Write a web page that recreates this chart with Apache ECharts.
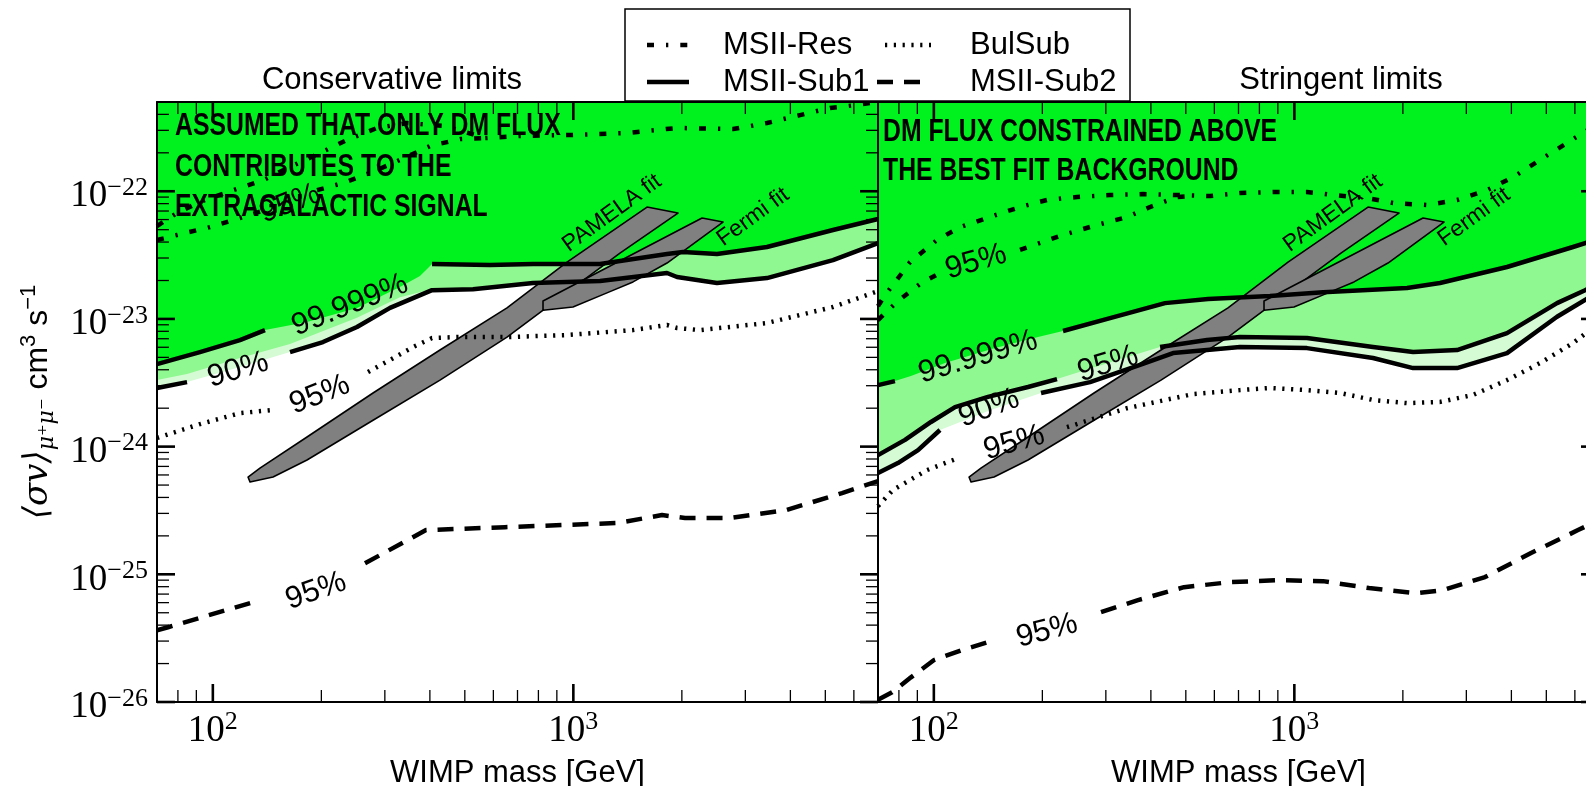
<!DOCTYPE html>
<html>
<head>
<meta charset="utf-8">
<script src="https://cdn.jsdelivr.net/npm/echarts@6/dist/echarts.min.js"></script>
<style>
  html, body { margin: 0; padding: 0; background: #fff; }
  #chart { width: 1586px; height: 786px; }
</style>
</head>
<body>
<div id="chart"></div>
<script>
// Axis ranges: WIMP mass [GeV] and <sigma v> [cm^3 s^-1]
const M_MIN = 70, M_MAX = 7000;
const Y_MIN = -26, Y_MAX = Math.log10(5e-22);

// Tick positions
const xMajorTicks = [100, 1000];
const xMinorTicks = [70, 80, 90, 200, 300, 400, 500, 600, 700, 800, 900, 2000, 3000, 4000, 5000, 6000, 7000];
const yDecades = [-26, -25, -24, -23, -22];

// ---- Conservative limits: [mass GeV, <sigma v>] ----
const consSub1Outer = [[70,4.43e-24],[92.1,5.50e-24],[118.9,6.83e-24],[139.5,8.18e-24],[182.5,9.46e-24],[251.1,1.22e-23],[330.4,1.78e-23],[375.5,2.17e-23],[405.5,2.69e-23],[587,2.64e-23],[773,2.69e-23],[1186,2.69e-23],[1819,3.22e-23],[2015,3.34e-23],[2503,3.22e-23],[3444,3.66e-23],[5251,4.97e-23],[7000,6.06e-23]];
const consSub1Mid = [[70,3.32e-24],[84.8,3.70e-24],[118.9,4.94e-24],[163.7,6.35e-24],[251.1,1.02e-23],[330.4,1.48e-23],[405.5,1.71e-23],[526.8,1.71e-23],[773,1.91e-23],[1186,1.98e-23],[1819,2.29e-23],[1939,2.13e-23],[2503,1.91e-23],[3444,2.09e-23],[5251,2.89e-23],[7000,3.93e-23]];
const consSub1Inner = [[70,2.88e-24],[84.8,3.20e-24],[118.9,4.20e-24],[163.7,5.50e-24],[202.1,6.59e-24],[251.1,8.64e-24],[310.1,1.22e-23],[405.5,1.68e-23],[526.8,1.71e-23],[773,1.91e-23],[1186,1.98e-23],[1819,2.29e-23],[1939,2.13e-23],[2503,1.91e-23],[3444,2.09e-23],[5251,2.89e-23],[7000,3.93e-23]];
const consResUpper = [[70,5.34e-23],[79.5,6.75e-23],[92.1,8.24e-23],[113.7,1.02e-22],[137.7,1.22e-22],[163.7,1.55e-22],[198.3,1.99e-22],[235.6,2.52e-22],[285.4,3.13e-22],[345.7,3.42e-22],[440.6,3.24e-22],[568.9,2.61e-22],[711,2.71e-22],[998,2.76e-22],[1408,2.86e-22],[1939,3.13e-22],[2773,3.07e-22],[3444,3.42e-22],[4254,3.95e-22],[5152,4.49e-22],[6121,4.74e-22],[7000,5.0e-22]];
const consRes95 = [[70,4.15e-23],[79.5,4.54e-23],[98.2,5.24e-23],[118.9,6.17e-23],[136.9,7.00e-23],[194.5,1.02e-22],[229.6,1.16e-22],[278.2,1.42e-22],[330.4,1.76e-22],[400.3,2.26e-22],[484.9,2.56e-22],[568.9,2.61e-22]];
const consBulSub = [[70,1.17e-24],[92.1,1.50e-24],[118.9,1.83e-24],[144.1,1.93e-24],[269.4,3.84e-24],[310.1,4.77e-24],[359.1,6.02e-24],[405.5,7.08e-24],[475.6,7.21e-24],[654.6,7.21e-24],[960.3,7.48e-24],[1464,8.18e-24],[1819,8.96e-24],[1939,8.49e-24],[2245,8.18e-24],[3444,9.29e-24],[5251,1.24e-23],[7000,1.65e-23]];
const consSub2 = [[70,3.65e-26],[75.1,3.85e-26],[129.3,6.05e-26],[264.3,1.22e-25],[390.2,2.22e-25],[646.4,2.34e-25],[1321.5,2.52e-25],[1762,2.91e-25],[2041,2.76e-25],[2720,2.76e-25],[3890,3.18e-25],[5563,4.33e-25],[7000,5.37e-25]];

// ---- Stringent limits ----
const strgSub1Outer = [[70,3.03e-24],[78.0,3.26e-24],[86.4,3.57e-24],[107.4,4.51e-24],[147.8,5.91e-24],[194.5,7.21e-24],[228.2,8.04e-24],[310,1.02e-23],[437.8,1.33e-23],[576.3,1.43e-23],[856,1.51e-23],[1201,1.62e-23],[2054,1.75e-23],[2536,1.91e-23],[3890,2.55e-23],[5929,3.66e-23],[7000,4.23e-23]];
const strgSub1Mid = [[70,8.58e-25],[83.2,1.13e-24],[98.2,1.56e-24],[114.5,2.04e-24],[141.3,2.45e-24],[182.5,2.93e-24],[219.6,3.38e-24],[304.2,4.51e-24],[424.1,6.02e-24],[572.5,6.83e-24],[707,7.21e-24],[1084,7.08e-24],[1653,6.02e-24],[2135,5.50e-24],[2827,5.71e-24],[3890,7.75e-24],[5354,1.33e-23],[6404,1.68e-23],[7000,1.91e-23]];
const strgSub1Inner = [[70,6.21e-25],[79.5,7.43e-25],[90.4,9.39e-25],[104.0,1.35e-24],[143.2,1.93e-24],[198.3,2.63e-24],[271.2,3.20e-24],[373.2,4.36e-24],[460.8,5.40e-24],[572.5,5.71e-24],[707,6.02e-24],[1084,5.91e-24],[1653,4.94e-24],[2135,4.12e-24],[2827,4.12e-24],[3890,5.40e-24],[5354,1.04e-23],[6404,1.41e-23],[7000,1.62e-23]];
const strgResUpper = [[70,1.26e-23],[73.2,1.54e-23],[77.0,1.84e-23],[85.9,2.79e-23],[102.0,4.15e-23],[118.2,5.24e-23],[145.9,6.40e-23],[173.4,7.52e-23],[206,8.54e-23],[249.5,9.01e-23],[308.1,9.34e-23],[380.4,9.51e-23],[472.6,9.34e-23],[583.4,9.18e-23],[707,9.68e-23],[872.6,9.86e-23],[1084,9.86e-23],[1280,9.34e-23],[1591,8.85e-23],[1878,8.09e-23],[2333,7.80e-23],[2827,8.54e-23],[3422,1.02e-22],[4042,1.29e-22],[4802,1.76e-22],[5706,2.39e-22],[6442,2.96e-22],[7000,3.42e-22]];
const strgRes95 = [[70,9.80e-24],[73.2,1.11e-23],[79.0,1.36e-23],[91.5,1.88e-23],[104.0,2.29e-23],[173.4,3.47e-23],[223.8,4.46e-23],[276.4,5.34e-23],[343.4,6.28e-23],[397.7,7.52e-23],[472.6,9.01e-23],[513.5,9.18e-23]];
const strgBulSub = [[70,3.42e-25],[77.0,4.57e-25],[95.7,6.55e-25],[116.7,8.12e-25],[234,1.42e-24],[343.4,2.00e-24],[523.4,2.58e-24],[707,2.77e-24],[856,2.88e-24],[1084,2.77e-24],[1339,2.63e-24],[1653,2.32e-24],[2054,2.19e-24],[2536,2.24e-24],[3131,2.54e-24],[3890,3.32e-24],[4802,4.51e-24],[5929,6.47e-24],[6442,7.75e-24],[7000,8.96e-24]];
const strgSub2 = [[70,1.04e-26],[76.6,1.19e-26],[86.4,1.56e-26],[100.1,2.13e-26],[119.7,2.55e-26],[146.9,3.05e-26],[290.9,5.05e-26],[368.4,6.28e-26],[494.2,7.93e-26],[663,8.68e-26],[895,9.00e-26],[1201,8.84e-26],[1611,7.80e-26],[2175,7.12e-26],[2585,7.52e-26],[3380,9.51e-26],[4535,1.47e-25],[6122,2.22e-25],[7000,2.66e-25]];

// ---- Best-fit regions (same in both panels) ----
const pamelaRegion = [[125.2,5.78e-25],[135.1,6.79e-25],[182.5,1.19e-24],[278.2,2.63e-24],[426.7,5.71e-24],[654.6,1.22e-23],[960.3,2.79e-23],[1601,7.52e-23],[1951,6.75e-23],[1347,3.28e-23],[978.8,1.68e-23],[654.6,7.21e-24],[426.7,3.32e-24],[278.2,1.61e-24],[182.5,7.85e-25],[146.9,5.78e-25],[126.8,5.28e-25]];
const fermiRegion = [[823.9,1.38e-23],[2275,6.17e-23],[2601,5.74e-23],[1819,2.74e-23],[1464,1.95e-23],[1239.7,1.60e-23],[997.7,1.24e-23],[823.9,1.17e-23]];
const regionLabels = [{ text: 'PAMELA fit', at: [1280, 6.75e-23] }, { text: 'Fermi fit', at: [3151, 6.28e-23] }];

// ---- Contour lines, their labels and the break left for each label ----
const consContours = [
  { pts: consSub1Outer, kind: 'sub1', label: '99.999%', gap: [139.5, 405.5], at: [240, 1.28e-23] },
  { pts: consSub1Inner, kind: 'sub1', label: '90%', gap: [84.8, 163.7], at: [117.5, 3.98e-24] },
  { pts: consResUpper, kind: 'res' },
  { pts: consRes95, kind: 'res', label: '95%', gap: [136.9, 194.5], at: [163.7, 8.0e-23] },
  { pts: consBulSub, kind: 'bul', label: '95%', gap: [144.1, 269.4], at: [198, 2.55e-24] },
  { pts: consSub2, kind: 'sub2', label: '95%', gap: [129.3, 264.3], at: [193.3, 7.4e-26] }
];
const strgContours = [
  { pts: strgSub1Outer, kind: 'sub1', label: '99.999%', gap: [78.0, 228.2], at: [132.6, 5.03e-24] },
  { pts: strgSub1Mid, kind: 'sub1', label: '95%', gap: [219.6, 424.1], at: [304.2, 4.43e-24] },
  { pts: strgSub1Inner, kind: 'sub1', label: '90%', gap: [104.0, 198.3], at: [142.2, 2.0e-24] },
  { pts: strgResUpper, kind: 'res' },
  { pts: strgRes95, kind: 'res', label: '95%', gap: [104.0, 173.4], at: [130.9, 2.79e-23] },
  { pts: strgBulSub, kind: 'bul', label: '95%', gap: [116.7, 234.0], at: [167.0, 1.07e-24] },
  { pts: strgSub2, kind: 'sub2', label: '95%', gap: [146.9, 290.9], at: [206, 3.6e-26] }
];

// ---- Styles ----
const GREEN = '#00f21e', LIGHT = '#90f890', PALE = '#d4fbd4', GREY = '#808080';
const LW = 4.5;
const DASH = { sub1: 'solid', res: [7, 12, 2.3, 12], bul: [2.2, 6.6], sub2: [16, 11] };
const SANS = 'Liberation Sans', SERIF = 'Liberation Serif';

const toXY = p => [p[0], Math.log10(p[1])];
const pointAt = (pts, m) => pts.find(p => p[0] === m);

// Region above a contour, closed along the top of the panel
function fillSeries(pts, color, gi) {
  return {
    type: 'custom', xAxisIndex: gi * 2, yAxisIndex: gi * 2, silent: true, clip: true, z: 1,
    data: pts.map(toXY),
    renderItem(params, api) {
      if (params.dataIndexInside !== 0) return null;
      const n = params.dataInsideLength, points = [];
      for (let i = 0; i < n; i++) points.push(api.coord([api.value(0, i), api.value(1, i)]));
      points.push(api.coord([api.value(0, n - 1), Y_MAX + 0.1]));
      points.push(api.coord([api.value(0, 0), Y_MAX + 0.1]));
      return { type: 'polygon', shape: { points }, style: { fill: color } };
    }
  };
}

function regionSeries(pts, gi) {
  return {
    type: 'custom', xAxisIndex: gi * 2, yAxisIndex: gi * 2, silent: true, clip: true, z: 2,
    data: pts.map(toXY),
    renderItem(params, api) {
      if (params.dataIndexInside !== 0) return null;
      const n = params.dataInsideLength, points = [];
      for (let i = 0; i < n; i++) points.push(api.coord([api.value(0, i), api.value(1, i)]));
      return { type: 'polygon', shape: { points }, style: { fill: GREY, stroke: '#000', lineWidth: 1.6, lineJoin: 'round' } };
    }
  };
}

function lineSeries(c, gi) {
  const segs = c.gap ? [c.pts.filter(p => p[0] <= c.gap[0]), c.pts.filter(p => p[0] >= c.gap[1])] : [c.pts];
  return segs.map(seg => ({
    type: 'line', xAxisIndex: gi * 2, yAxisIndex: gi * 2, silent: true, z: 3,
    symbol: 'none', data: seg.map(toXY),
    lineStyle: { color: '#000', width: LW, type: DASH[c.kind], cap: 'butt', join: 'round' }
  }));
}

// Inline contour label, turned along the broken piece of the line
function labelSeries(c, gi) {
  return {
    type: 'custom', xAxisIndex: gi * 2, yAxisIndex: gi * 2, silent: true, clip: false, z: 4,
    data: [toXY(c.at)],
    renderItem(params, api) {
      const p = api.coord([api.value(0), api.value(1)]);
      const a = api.coord(toXY(pointAt(c.pts, c.gap[0])));
      const b = api.coord(toXY(pointAt(c.pts, c.gap[1])));
      const rot = Math.atan2(a[1] - b[1], b[0] - a[0]);
      return { type: 'text', x: p[0], y: p[1], rotation: rot,
        style: { text: c.label, fill: '#000', font: '31px "' + SANS + '"', align: 'center', verticalAlign: 'middle' } };
    }
  };
}

function regionLabelSeries(gi) {
  return {
    type: 'custom', xAxisIndex: gi * 2, yAxisIndex: gi * 2, silent: true, clip: false, z: 4,
    data: regionLabels.map(r => toXY(r.at)),
    renderItem(params, api) {
      const p = api.coord([api.value(0), api.value(1)]);
      return { type: 'text', x: p[0], y: p[1], rotation: 36 * Math.PI / 180,
        style: { text: regionLabels[params.dataIndex].text, fill: '#000', font: '23px "' + SANS + '"', align: 'center', verticalAlign: 'middle' } };
    }
  };
}

// Inward major/minor ticks on the frame of one panel
function tickSeries(gi, leftTicks) {
  const yMinor = [];
  yDecades.forEach(d => { for (let k = 2; k <= 9; k++) { const v = d + Math.log10(k); if (v < Y_MAX - 1e-6) yMinor.push(v); } });
  return {
    type: 'custom', xAxisIndex: gi * 2, yAxisIndex: gi * 2, silent: true, clip: false, z: 20,
    data: [[M_MIN, Y_MIN]],
    renderItem(params, api) {
      const ch = [];
      const x0 = api.coord([M_MIN, Y_MIN])[0], x1 = api.coord([M_MAX, Y_MIN])[0];
      const yb = api.coord([M_MIN, Y_MIN])[1], yt = api.coord([M_MIN, Y_MAX])[1];
      const seg = (a, b, c, d, w) => ch.push({ type: 'line', shape: { x1: a, y1: b, x2: c, y2: d }, style: { stroke: '#000', lineWidth: w } });
      const xt = (v, L, w) => { const x = api.coord([v, Y_MIN])[0]; seg(x, yb, x, yb - L, w); seg(x, yt, x, yt + L, w); };
      const yt_ = (v, L, w) => { const y = api.coord([M_MIN, v])[1]; if (leftTicks) seg(x0, y, x0 + L, y, w); seg(x1, y, x1 - L, y, w); };
      xMinorTicks.forEach(v => xt(v, 12, 1.3));
      xMajorTicks.forEach(v => xt(v, 18, 2.6));
      yMinor.forEach(v => yt_(v, 12, 1.3));
      yDecades.forEach(v => yt_(v, 18, 2.6));
      return { type: 'group', children: ch };
    }
  };
}

function panelSeries(gi, sub1Inner, sub1Mid, sub1Outer, contours) {
  let s = [
    fillSeries(sub1Inner, PALE, gi),
    fillSeries(sub1Mid, LIGHT, gi),
    fillSeries(sub1Outer, GREEN, gi),
    regionSeries(pamelaRegion, gi),
    regionSeries(fermiRegion, gi)
  ];
  contours.forEach(c => { s = s.concat(lineSeries(c, gi)); });
  contours.filter(c => c.label).forEach(c => s.push(labelSeries(c, gi)));
  s.push(regionLabelSeries(gi));
  s.push(tickSeries(gi, gi === 0));
  return s;
}

// Power-of-ten tick labels: base "10" with a raised exponent
const powRich = {
  b: { fontFamily: SERIF, fontSize: 37, lineHeight: 40, height: 40, verticalAlign: 'bottom', color: '#000' },
  s: { fontFamily: SERIF, fontSize: 26, lineHeight: 23, height: 23, verticalAlign: 'top', color: '#000' }
};
const xLabel = {
  margin: 9,
  formatter: v => { const e = Math.log10(v), r = Math.round(e); return Math.abs(e - r) > 1e-6 ? '' : '{b|10}{s|' + r + '}'; },
  rich: powRich
};
const yLabel = {
  margin: 9, padding: [11, 0, 0, 0],
  formatter: v => { const r = Math.round(v); return Math.abs(v - r) > 1e-6 ? '' : '{b|10}{s|\u2212' + (-r) + '}'; },
  rich: powRich
};
const spine = { show: true, onZero: false, lineStyle: { color: '#000', width: 2 } };
const xBase = { type: 'log', logBase: 10, min: M_MIN, max: M_MAX, z: 10, axisLine: spine, axisTick: { show: false }, splitLine: { show: false } };
const yBase = { type: 'value', min: Y_MIN, max: Y_MAX, interval: 1, z: 10, axisLine: spine, axisTick: { show: false }, splitLine: { show: false } };
const xName = { name: 'WIMP mass [GeV]', nameLocation: 'middle', nameGap: 45,
  nameTextStyle: { fontFamily: SANS, fontSize: 31, lineHeight: 36, color: '#000' } };

const annot = (text, x, y) => ({ type: 'text', x, y, scaleX: 0.8, z: 100, silent: true,
  style: { text, fill: '#000', font: 'bold 31px "' + SANS + '"', align: 'left', verticalAlign: 'middle' } });
const legText = (text, x, y) => ({ type: 'text', x, y, z: 101, silent: true,
  style: { text, fill: '#000', font: '31px "' + SANS + '"', align: 'left', verticalAlign: 'middle' } });
const legLine = (x1, x2, y, dash) => ({ type: 'line', z: 101, silent: true, shape: { x1, y1: y, x2, y2: y },
  style: { stroke: '#000', lineWidth: LW, lineDash: dash === 'solid' ? null : dash, lineCap: 'butt' } });

const option = {
  animation: false,
  backgroundColor: '#fff',
  title: [
    { text: 'Conservative limits', left: 392, top: 62, textAlign: 'center', padding: 0,
      textStyle: { fontFamily: SANS, fontSize: 31, fontWeight: 'normal', color: '#000', lineHeight: 36 } },
    { text: 'Stringent limits', left: 1341, top: 62, textAlign: 'center', padding: 0,
      textStyle: { fontFamily: SANS, fontSize: 31, fontWeight: 'normal', color: '#000', lineHeight: 36 } }
  ],
  // The second panel runs past the right edge of the page; keep both frames at fixed size
  grid: [
    { left: 157, top: 102, width: 721, height: 600, containLabel: false, outerBoundsMode: 'none' },
    { left: 878, top: 102, width: 721, height: 600, containLabel: false, outerBoundsMode: 'none' }
  ],
  xAxis: [
    Object.assign({}, xBase, xName, { gridIndex: 0, position: 'bottom', axisLabel: xLabel }),
    Object.assign({}, xBase, { gridIndex: 0, position: 'top', axisLabel: { show: false } }),
    Object.assign({}, xBase, xName, { gridIndex: 1, position: 'bottom', axisLabel: xLabel }),
    Object.assign({}, xBase, { gridIndex: 1, position: 'top', axisLabel: { show: false } })
  ],
  yAxis: [
    Object.assign({}, yBase, { gridIndex: 0, position: 'left', axisLabel: yLabel,
      name: '{s|\u27E8\u03C3v\u27E9}{u|\u03BC\u207A\u03BC\u207B}{t| cm}{p|3}{t| s}{p|\u22121}',
      nameLocation: 'middle', nameRotate: 90, nameGap: 99,
      nameTextStyle: { rich: {
        s: { fontFamily: 'DejaVu Serif', fontStyle: 'italic', fontSize: 34, lineHeight: 40, color: '#000' },
        u: { fontFamily: 'DejaVu Serif', fontStyle: 'italic', fontSize: 22, lineHeight: 22, verticalAlign: 'bottom', color: '#000' },
        t: { fontFamily: SANS, fontSize: 32, lineHeight: 40, color: '#000' },
        p: { fontFamily: SANS, fontSize: 22, lineHeight: 24, verticalAlign: 'top', color: '#000' }
      } } }),
    Object.assign({}, yBase, { gridIndex: 0, position: 'right', axisLabel: { show: false } }),
    Object.assign({}, yBase, { gridIndex: 1, position: 'left', axisLabel: { show: false } }),
    Object.assign({}, yBase, { gridIndex: 1, position: 'right', axisLabel: { show: false } })
  ],
  series: panelSeries(0, consSub1Inner, consSub1Mid, consSub1Outer, consContours)
    .concat(panelSeries(1, strgSub1Inner, strgSub1Mid, strgSub1Outer, strgContours)),
  graphic: { elements: [
    annot('ASSUMED THAT ONLY DM FLUX', 175, 126),
    annot('CONTRIBUTES TO THE', 175, 167),
    annot('EXTRAGALACTIC SIGNAL', 175, 207),
    annot('DM FLUX CONSTRAINED ABOVE', 883, 132),
    annot('THE BEST FIT BACKGROUND', 883, 171),
    { type: 'rect', z: 100, silent: true, shape: { x: 625, y: 9, width: 505, height: 92 },
      style: { fill: '#fff', stroke: '#000', lineWidth: 1.5 } },
    legLine(647, 689, 45, DASH.res), legText('MSII-Res', 723, 45),
    legLine(885, 931, 45, DASH.bul), legText('BulSub', 970, 45),
    legLine(647, 689, 82, 'solid'), legText('MSII-Sub1', 723, 82),
    legLine(877, 931, 82, DASH.sub2), legText('MSII-Sub2', 970, 82)
  ] }
};

const chart = echarts.init(document.getElementById('chart'), null, { renderer: 'canvas' });
chart.setOption(option);
</script>
</body>
</html>
